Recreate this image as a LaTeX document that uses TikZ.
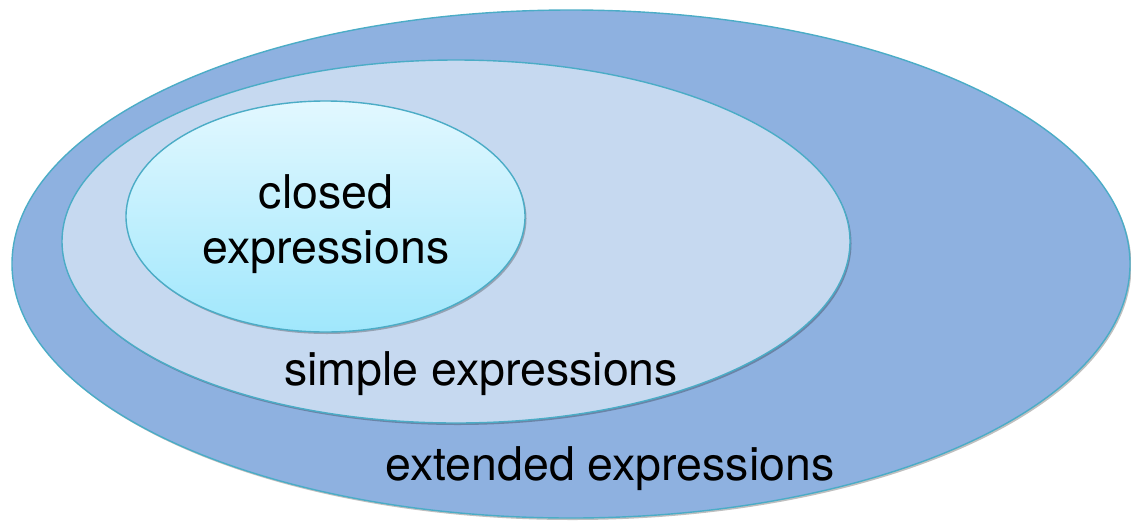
\documentclass[tikz,border=0pt]{standalone}
\usepackage{fontspec}
\setmainfont{TeX Gyre Heros}
\usetikzlibrary{shapes.geometric,shadows}
\definecolor{outerfill}{HTML}{8EB1E0}
\definecolor{midfill}{HTML}{C6D9F0}
\definecolor{innertop}{HTML}{E2F8FF}
\definecolor{innerbot}{HTML}{A0E7FC}
\definecolor{rim}{HTML}{4BACC6}
\begin{document}
\begin{tikzpicture}[x=1pt,y=-1pt,
  setshape/.style={ellipse, draw=rim, line width=1.4pt, inner sep=0pt,
    drop shadow={shadow xshift=1.5pt, shadow yshift=-2pt, opacity=0.25, fill=black}},
  setlabel/.style={font=\fontsize{46.5}{55}\selectfont, text=black, inner sep=0pt, align=center}]
  \path[use as bounding box] (0,0) rectangle (1131,520);
  % nested sets, outermost first
  \node[setshape, fill=outerfill, minimum width=1118pt, minimum height=508pt] (extended) at (571,264) {};
  \node[setshape, fill=midfill, minimum width=788pt, minimum height=363pt] (simple) at (456,241.5) {};
  \node[setshape, top color=innertop, bottom color=innerbot, minimum width=399pt, minimum height=231pt] (closed) at (325.5,216.5) {};
  % captions
  \node[setlabel] (closedtext) at (326,224) {closed\\expressions};
  \node[setlabel, anchor=base] (simpletext) at (481,385) {simple expressions};
  \node[setlabel, anchor=base] (extendedtext) at (610,480) {extended expressions};
\end{tikzpicture}
\end{document}
